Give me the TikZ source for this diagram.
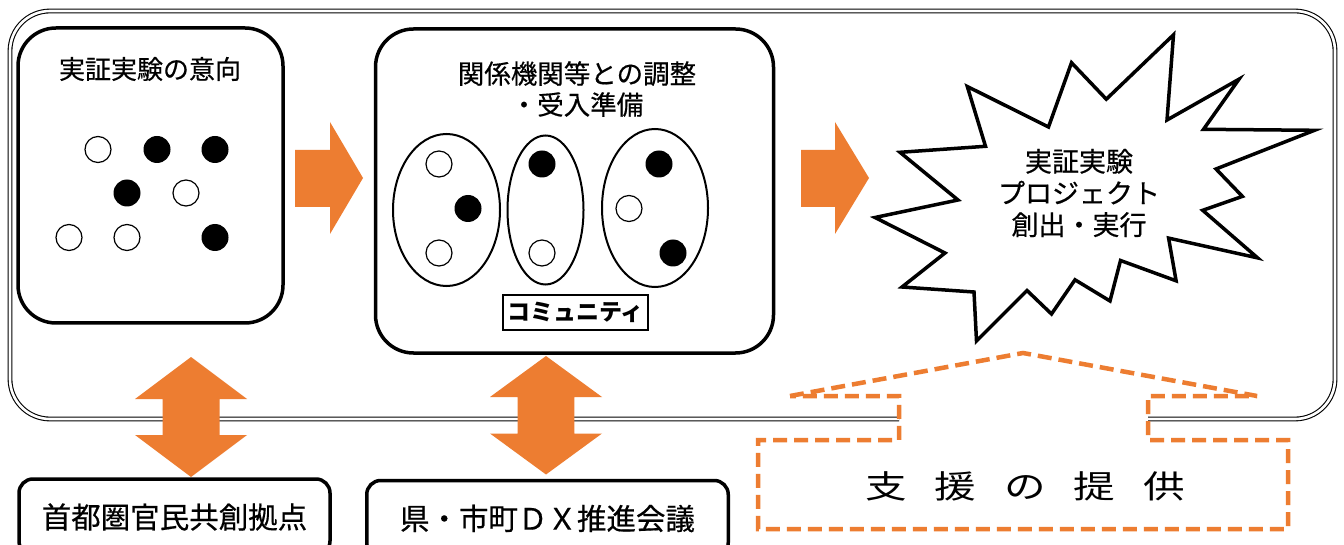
\documentclass[tikz,border=0pt]{standalone}
\usepackage{fontspec}
\setmainfont{Noto Sans CJK JP}
\newfontfamily\jpmed{Noto Sans CJK JP}[FakeBold=0.5]
\usetikzlibrary{shapes.geometric}
\definecolor{org}{HTML}{ED7D31}
\begin{document}
\begin{tikzpicture}[x=1pt,y=-1pt,
  bigbox/.style={draw, line width=3.5pt, rounded corners=38pt, inner sep=0pt},
  lowbox/.style={draw, line width=3.5pt, rounded corners=14pt, inner sep=0pt,
     font=\jpmed\fontsize{29.5}{34}\selectfont},
  lbl/.style={inner sep=0pt, align=center},
  wdot/.style={circle, draw, line width=1.2pt, minimum size=26pt, inner sep=0pt, fill=white},
  bdot/.style={circle, fill=black, minimum size=27pt, inner sep=0pt},
  ell/.style={ellipse, draw, line width=2pt, inner sep=0pt},
  blockarrow/.style={fill=org, draw=none},
  dashline/.style={draw=org, line width=4.5pt, dash pattern=on 14pt off 7pt},
  burstline/.style={draw, line width=3.5pt, line join=miter, fill=white}
]
\useasboundingbox (0,0) rectangle (1344,545);
\fill[white] (0,0) rectangle (1344,545);

% outer frame (double line, open at the bottom right)
\draw[line width=1.1pt, double, double distance=2.6pt, rounded corners=40pt]
  (899,419) -- (10,419) -- (10,11) -- (1335,11) -- (1335,419) -- (1148,419);

% box 1
\node[bigbox, minimum width=265pt, minimum height=295pt] (box1) at (150.5,175.5) {};
\node[lbl, font=\jpmed\fontsize{26}{30}\selectfont] (title1) at (150,69) {実証実験の意向};
\node[wdot] (a1) at (98,149.5) {};
\node[bdot] (a2) at (157,149.5) {};
\node[bdot] (a3) at (215,149.5) {};
\node[bdot] (a4) at (127,193) {};
\node[wdot] (a5) at (186,193) {};
\node[wdot] (a6) at (69,237.5) {};
\node[wdot] (a7) at (127,237.5) {};
\node[bdot] (a8) at (215,237.5) {};

% box 2
\node[bigbox, minimum width=398pt, minimum height=324pt] (box2) at (574.5,191) {};
\node[lbl, font=\jpmed\fontsize{26.5}{31}\selectfont] (title2) at (577,89) {関係機関等との調整\\・受入準備};
\node[ell, minimum width=107pt, minimum height=152pt] (e1) at (446.5,210) {};
\node[ell, minimum width=76pt, minimum height=149pt] (e2) at (545.5,210) {};
\node[ell, minimum width=106pt, minimum height=158pt] (e3) at (655,208) {};
\node[wdot] (c1) at (439,164) {};
\node[bdot] (c2) at (468,208.5) {};
\node[wdot] (c3) at (439,253) {};
\node[bdot] (c4) at (542,164) {};
\node[wdot] (c5) at (542,253) {};
\node[bdot] (c6) at (659,164) {};
\node[wdot] (c7) at (629,208.5) {};
\node[bdot] (c8) at (673,253) {};
\node[draw, line width=1.6pt, inner sep=0pt, minimum width=145pt, minimum height=35pt,
  font=\fontsize{23}{26}\selectfont\bfseries] (comm) at (575.5,312.5) {コミュニティ};

% right block arrows
\path[blockarrow] (295,150) -- (330,150) -- (330,122) -- (363,178) -- (330,234) -- (330,207) -- (295,207) -- cycle;
\path[blockarrow] (801,150) -- (835,150) -- (835,122) -- (869,178) -- (835,234) -- (835,207) -- (801,207) -- cycle;

% starburst
\draw[burstline] (1173.5,34.8) -- (1167,120) -- (1239,79.2) -- (1203.5,129.3) -- (1314.5,130.3)
  -- (1216,169) -- (1242.4,196.4) -- (1202.7,210.3) -- (1257.6,257.9) -- (1168.6,238.1)
  -- (1176.1,280.8) -- (1120.5,260.5) -- (1110,301) -- (1075,279.8) -- (1051.5,314)
  -- (1027,290.5) -- (976.5,341) -- (974,292) -- (902,287) -- (945,253)
  -- (875,217.5) -- (958,200) -- (900,152.3) -- (985.5,146.3) -- (967.3,86.5)
  -- (1048.5,127) -- (1071.5,62.7) -- (1106.3,99.2) -- cycle;
\node[lbl, font=\jpmed\fontsize{27}{31.7}\selectfont] (burst) at (1079,193) {実証実験\\プロジェクト\\創出・実行};

% vertical double arrows
\path[blockarrow] (191,357) -- (247,399) -- (219.5,399) -- (219.5,435) -- (247,435) -- (191,477)
  -- (135,435) -- (162.5,435) -- (162.5,399) -- (135,399) -- cycle;
\path[blockarrow] (546,356) -- (602,397) -- (574.3,397) -- (574.3,433.5) -- (602,433.5) -- (546,474.5)
  -- (490,433.5) -- (517.7,433.5) -- (517.7,397) -- (490,397) -- cycle;

% bottom boxes
\node[lowbox, minimum width=311pt, minimum height=76pt] (base1) at (174.5,517) {首都圏官民共創拠点};
\node[lowbox, minimum width=361.5pt, minimum height=76pt] (base2) at (547.5,518.5) {県・市町ＤＸ推進会議};

% dashed support callout
\draw[dashline] (790,396) -- (1023,353) -- (1257,396) -- (1148,396) -- (1148,440) -- (1288,440)
  -- (1288,529) -- (758,529) -- (758,440) -- (899,440) -- (899,396) -- cycle;
\node[lbl, font=\fontsize{32}{36}\selectfont] (support) at (1025,486)
  {\scalebox{1.3}[1]{支}\hspace{28pt}\scalebox{1.3}[1]{援}\hspace{28pt}\scalebox{1.3}[1]{の}\hspace{28pt}\scalebox{1.3}[1]{提}\hspace{28pt}\scalebox{1.3}[1]{供}};
\end{tikzpicture}
\end{document}
